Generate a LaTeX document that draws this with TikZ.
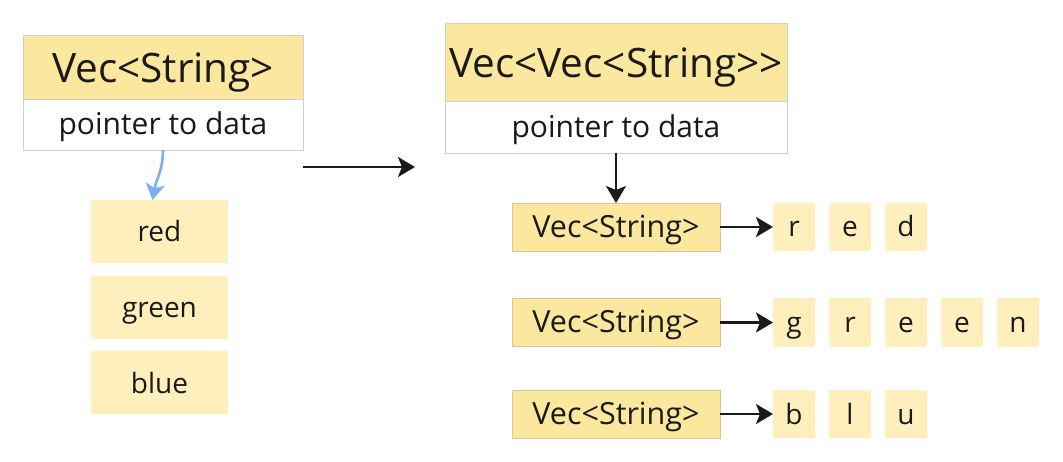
\documentclass[tikz,border=0pt]{standalone}
\usepackage{fontspec}
\setmainfont{Open Sans}
\usetikzlibrary{positioning,arrows.meta}
\definecolor{CHead}{HTML}{FCE79E}
\definecolor{CCell}{HTML}{FEEFBC}
\definecolor{CEdge}{HTML}{CFCFCF}
\definecolor{CTan}{HTML}{D8C78E}
\definecolor{CInk}{HTML}{1A1A1A}
\definecolor{CSky}{HTML}{7FAEF6}

\tikzset{
  headbox/.style={draw=CEdge, fill=CHead, line width=0.8pt, inner sep=0pt, outer sep=0pt, text=CInk, text height=31pt, text depth=0pt, font=\fontsize{40.5}{48}\selectfont},
  ptrbox/.style={draw=CEdge, fill=white, line width=0.8pt, inner sep=0pt, outer sep=0pt, text=CInk, text height=21pt, text depth=0pt, font=\fontsize{30}{36}\selectfont},
  cellbox/.style={fill=CCell, inner sep=0pt, outer sep=0pt, minimum width=137pt, minimum height=63pt, text=CInk, text height=21pt, text depth=0pt, font=\fontsize{28}{34}\selectfont},
  vecbox/.style={draw=CTan, fill=CHead, line width=0.8pt, inner sep=0pt, outer sep=0pt, minimum width=208pt, minimum height=48pt, text=CInk, text height=21pt, text depth=0pt, font=\fontsize{30.5}{36}\selectfont},
  charbox/.style={fill=CCell, inner sep=0pt, outer sep=0pt, minimum width=42pt, minimum height=48pt, text height=20pt, text depth=0pt, text=CInk, font=\fontsize{28}{34}\selectfont},
  link/.style={-{Stealth[length=17pt, width=20pt, inset=4pt]}, line width=2.6pt, CInk},
}

\begin{document}
\begin{tikzpicture}[x=1pt, y=-1pt]
  \useasboundingbox (0,0) rectangle (1063,462);

  % ============================================
  % LEFT: Vec<String> and its heap cells
  % ============================================
  \node[headbox, minimum width=280pt, minimum height=64pt] (vs) at (163,67) {Vec<String>};
  \node[ptrbox, minimum width=280pt, minimum height=51pt, below=0pt of vs] (vsptr) {pointer to data};

  % heap cells
  \node[cellbox] (red) at (159.5,231.5) {red};
  \node[cellbox, below=13pt of red] (green) {green};
  \node[cellbox, below=12pt of green] (blue) {blue};

  % pointer (curved, blue)
  \draw[-{Stealth[length=16pt, width=19pt, inset=4pt]}, line width=2.6pt, CSky]
    (vsptr.south) to[out=-90, in=80] ([xshift=-7pt]red.north);

  % Arrow left -> right
  \coordinate (mfrom) at (303,167);
  \coordinate (mto) at (415,167);
  \draw[link] (mfrom) -- (mto);

  % ============================================
  % RIGHT: Vec<Vec<String>>
  % ============================================
  \node[headbox, minimum width=342pt, minimum height=78pt, text height=32pt] (vvs) at (616,62) {Vec<Vec<String>{}>};
  \node[ptrbox, minimum width=342pt, minimum height=52pt, below=0pt of vvs] (vvsptr) {pointer to data};

  % inner vectors
  \node[vecbox] (vred) at (616,227) {Vec<String>};
  \node[vecbox] (vgreen) at (616,322.5) {Vec<String>};
  \node[vecbox] (vblue) at (616,414) {Vec<String>};

  \draw[link] (vvsptr.south) -- (vred.north);

  % character cells
  \foreach \ch [count=\i] in {r,e,d}
    \node[charbox] (r\i) at ({794+56*(\i-1)},227) {\ch};
  \foreach \ch [count=\i] in {g,r,e,e,n}
    \node[charbox] (g\i) at ({794+56*(\i-1)},322.5) {\ch};
  \foreach \ch [count=\i] in {b,l,u}
    \node[charbox] (b\i) at ({794+56*(\i-1)},414) {\ch};

  \draw[link] (vred.east) -- (r1.west);
  \draw[link] (vgreen.east) -- (g1.west);
  \draw[link] (vblue.east) -- (b1.west);

\end{tikzpicture}
\end{document}
